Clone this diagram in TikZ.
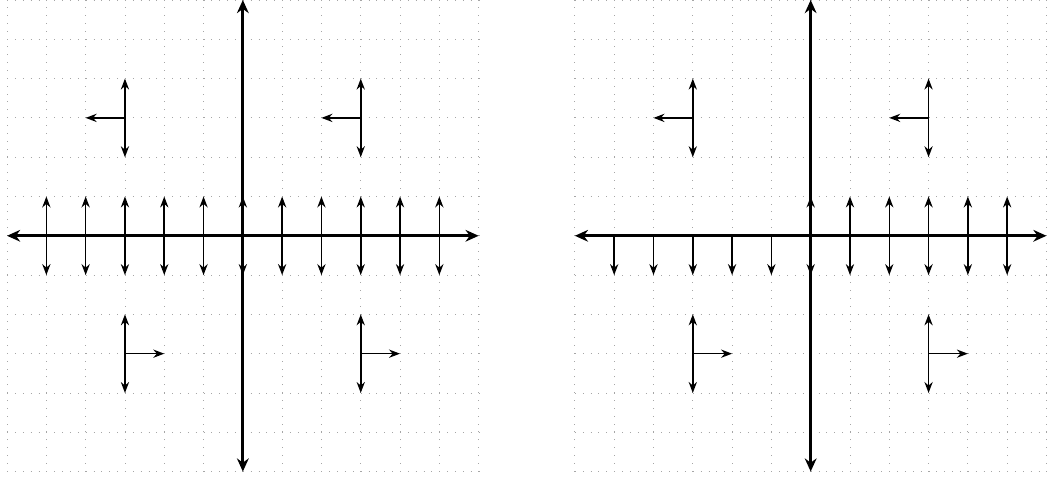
\documentclass[tikz,border=0pt]{standalone}
\usetikzlibrary{arrows.meta}

\begin{document}
\begin{tikzpicture}[
        >=Stealth,
        gridline/.style={
            gray!70,
            line width=0.6pt,
            dash pattern=on 0.6pt off 5.09pt
        },
        axis/.style={
            {Stealth[length=9.5pt,width=8.5pt]}-{Stealth[length=9.5pt,width=8.5pt]},
            line width=2.1pt
        },
        vec/.style={->, line width=1.1pt},
        dvec/.style={<->, line width=1.1pt}
    ]
    \useasboundingbox (-6.18,-6.23) rectangle (20.54,6.0);

    % left field
    \draw[gridline] (-6,-6) grid (6,6);
    \foreach \x in {-5,...,5}
        \draw[dvec] (\x,-1) -- (\x,1);
    \foreach \x in {-3,3} {
        \draw[dvec] (\x,2) -- (\x,4);
        \draw[vec] (\x,3) -- (\x-1,3);
        \draw[dvec] (\x,-2) -- (\x,-4);
        \draw[vec] (\x,-3) -- (\x+1,-3);
    }
    \draw[axis] (-6,0) -- (6,0);
    \draw[axis] (0,-6) -- (0,6);

    % right field
    \begin{scope}[xshift=14.45cm]
        \draw[gridline] (-6,-6) grid (6,6);
        \foreach \x in {-5,...,-1}
            \draw[vec] (\x,0) -- (\x,-1);
        \foreach \x in {0,...,5}
            \draw[dvec] (\x,-1) -- (\x,1);
        \foreach \x in {-3,3} {
            \draw[dvec] (\x,2) -- (\x,4);
            \draw[vec] (\x,3) -- (\x-1,3);
            \draw[dvec] (\x,-2) -- (\x,-4);
            \draw[vec] (\x,-3) -- (\x+1,-3);
        }
        \draw[axis] (-6,0) -- (6,0);
        \draw[axis] (0,-6) -- (0,6);
    \end{scope}
\end{tikzpicture}
\end{document}
